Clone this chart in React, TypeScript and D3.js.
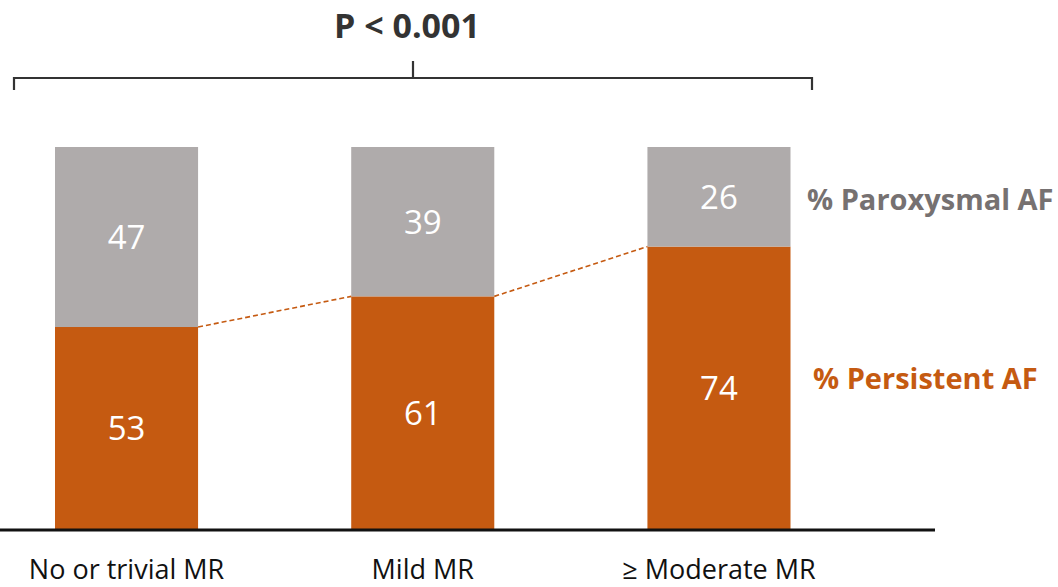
import React from "react";
import * as d3 from "d3";

const categories = ["No or trivial MR", "Mild MR", "≥ Moderate MR"];
const persistent = [53, 61, 74];
const paroxysmal = [47, 39, 26];
const seriesNames = ["% Persistent AF", "% Paroxysmal AF"];
const pLabel = "P < 0.001";

const W = 1058;
const H = 587;
const ORANGE = "#c55a11";
const GREY = "#afabab";
const FONT = "'Open Sans', 'Noto Sans', sans-serif";

export default function App() {
  const x = d3
    .scaleBand<string>()
    .domain(categories)
    .range([55, 790.5])
    .paddingInner(0.517)
    .paddingOuter(0);
  const y = d3.scaleLinear().domain([0, 100]).range([530, 147]);
  const bw = x.bandwidth();

  const stacked = categories.map((c, i) => ({
    c,
    pers: persistent[i],
    parox: paroxysmal[i],
  }));

  const connectorPts: [number, number][] = [];
  stacked.forEach((d) => {
    const x0 = x(d.c)!;
    connectorPts.push([x0, y(d.pers)]);
    connectorPts.push([x0 + bw, y(d.pers)]);
  });
  const segs: [number, number][][] = [];
  for (let i = 1; i < connectorPts.length - 1; i += 2) {
    segs.push([connectorPts[i], connectorPts[i + 1]]);
  }
  const line = d3.line();

  return (
    <div style={{ position: "absolute", left: 0, top: 0 }}>
      <svg width={W} height={H} style={{ display: "block", background: "#fff" }}>
        <path
          d="M14,90 L14,78 L812,78 L812,90 M413,78 L413,61"
          fill="none"
          stroke="#333"
          strokeWidth={2.2}
        />
        <text
          x={407}
          y={38}
          textAnchor="middle"
          fontFamily={FONT}
          fontWeight="bold"
          fontSize={34}
          fill="#333"
        >
          {pLabel}
        </text>

        {stacked.map((d) => {
          const x0 = x(d.c)!;
          return (
            <g key={d.c}>
              <rect x={x0} y={y(d.pers)} width={bw} height={y(0) - y(d.pers)} fill={ORANGE} />
              <rect
                x={x0}
                y={y(d.pers + d.parox)}
                width={bw}
                height={y(d.pers) - y(d.pers + d.parox)}
                fill={GREY}
              />
              <text
                x={x0 + bw / 2}
                y={(y(0) + y(d.pers)) / 2}
                dy="0.36em"
                textAnchor="middle"
                fontFamily={FONT}
                fontSize={33}
                fill="#fff"
              >
                {d.pers}
              </text>
              <text
                x={x0 + bw / 2}
                y={(y(d.pers) + y(d.pers + d.parox)) / 2}
                dy="0.36em"
                textAnchor="middle"
                fontFamily={FONT}
                fontSize={33}
                fill="#fff"
              >
                {d.parox}
              </text>
              <text
                x={x0 + bw / 2}
                y={579}
                textAnchor="middle"
                fontFamily={FONT}
                fontSize={27}
                fill="#111"
              >
                {d.c}
              </text>
            </g>
          );
        })}

        {segs.map((s, i) => (
          <path
            key={i}
            d={line(s)!}
            fill="none"
            stroke={ORANGE}
            strokeWidth={1.6}
            strokeDasharray="5,3"
          />
        ))}

        <line x1={0} x2={935} y1={y(0)} y2={y(0)} stroke="#111" strokeWidth={3} />

        <text
          x={807}
          y={210}
          fontFamily={FONT}
          fontWeight="bold"
          fontSize={29}
          fill="#767171"
        >
          {seriesNames[1]}
        </text>
        <text
          x={813}
          y={389}
          fontFamily={FONT}
          fontWeight="bold"
          fontSize={29}
          fill={ORANGE}
        >
          {seriesNames[0]}
        </text>
      </svg>
    </div>
  );
}
